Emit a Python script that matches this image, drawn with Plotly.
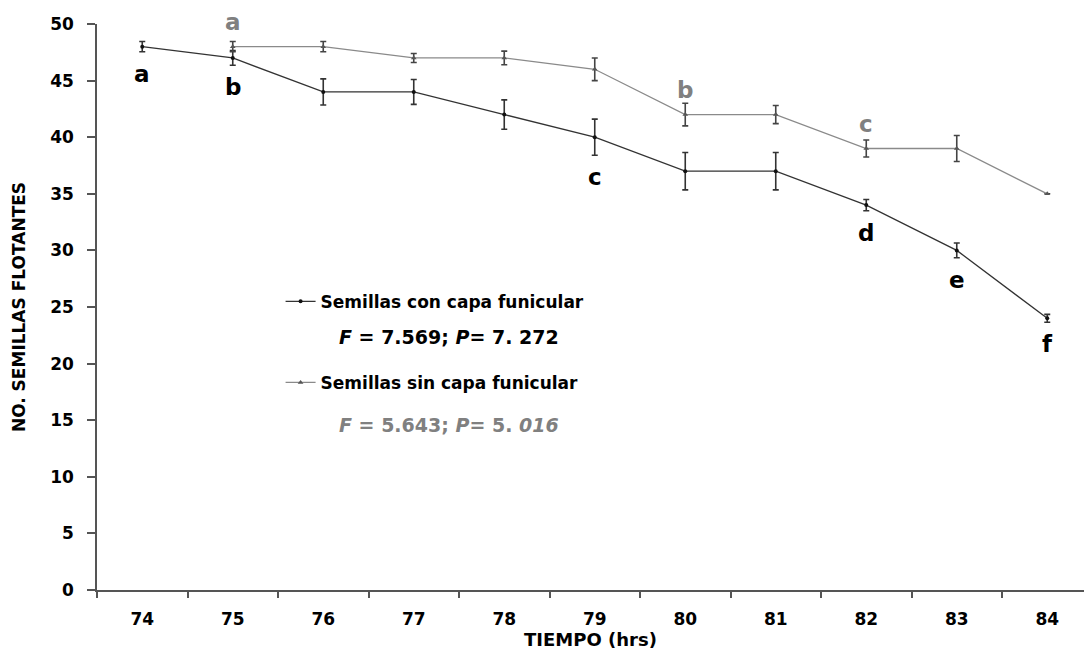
import plotly.graph_objects as go

horas = ["74", "75", "76", "77", "78", "79", "80", "81", "82", "83", "84"]

con_capa = [48, 47, 44, 44, 42, 40, 37, 37, 34, 30, 24]
con_err = [0.45, 0.65, 1.15, 1.1, 1.3, 1.6, 1.65, 1.65, 0.5, 0.65, 0.35]
con_letras = ["a", "b", "", "", "", "c", "", "", "d", "e", "f"]

sin_horas = ["75", "76", "77", "78", "79", "80", "81", "82", "83", "84"]
sin_capa = [48, 48, 47, 47, 46, 42, 42, 39, 39, 35]
sin_err = [0.45, 0.45, 0.4, 0.6, 1.0, 1.0, 0.8, 0.75, 1.15, 0]
sin_letras = ["a", "", "", "", "", "b", "", "c", "", ""]

y_ticks = [0, 5, 10, 15, 20, 25, 30, 35, 40, 45, 50]

FONT = "DejaVu Sans, Arial, sans-serif"
GRAY = "#808080"

fig = go.Figure()

fig.add_trace(go.Scatter(
    x=horas, y=con_capa, mode="lines+markers",
    name="<b>Semillas con capa funicular</b>",
    line=dict(color="#333333", width=1.3),
    marker=dict(color="#111111", size=4, symbol="circle"),
    error_y=dict(type="data", array=con_err, visible=True,
                 color="#333333", thickness=1.6, width=3),
    legendgroup="g1",
))
fig.add_trace(go.Scatter(
    x=sin_horas, y=sin_capa, mode="lines+markers",
    name="<b>Semillas sin capa funicular</b>",
    line=dict(color="#8a8a8a", width=1.3),
    marker=dict(color="#555555", size=5, symbol="triangle-up"),
    error_y=dict(type="data", array=sin_err, visible=True,
                 color="#444444", thickness=1.6, width=3),
    legendgroup="g2",
))

px_per_unit = 566 / 50.0
annotations = []
for h, v, e, l in zip(horas, con_capa, con_err, con_letras):
    if l:
        annotations.append(dict(
            x=horas.index(h), y=v, text="<b>%s</b>" % l, showarrow=False,
            yshift=-(22 + e * px_per_unit),
            font=dict(family=FONT, size=23, color="#000000")))
for h, v, e, l in zip(sin_horas, sin_capa, sin_err, sin_letras):
    if l:
        annotations.append(dict(
            x=horas.index(h), y=v, text="<b>%s</b>" % l, showarrow=False,
            yshift=25,
            font=dict(family=FONT, size=23, color=GRAY)))

annotations.append(dict(
    x=0.357, y=0.447, xref="paper", yref="paper", showarrow=False,
    text="<b><i>F</i> = 7.569; <i>P</i>= 7. 272</b>",
    font=dict(family=FONT, size=19, color="#000000")))
annotations.append(dict(
    x=0.357, y=0.268, xref="paper", yref="paper", showarrow=False,
    text="<b><i>F</i> = 5.643; <i>P</i>= 5. <i>016</i></b>",
    font=dict(family=FONT, size=19, color=GRAY)))

fig.update_layout(
    width=1084, height=652,
    margin=dict(l=97, r=0, t=24, b=62, autoexpand=False),
    paper_bgcolor="white", plot_bgcolor="white",
    font=dict(family=FONT, color="#000000"),
    annotations=annotations,
    showlegend=True,
    legend=dict(x=0.186, y=0.541, xanchor="left", yanchor="top",
                bgcolor="rgba(0,0,0,0)", traceorder="grouped",
                tracegroupgap=56,
                font=dict(family=FONT, size=17, color="#000000")),
    xaxis=dict(
        type="category", categoryorder="array", categoryarray=horas,
        range=[-0.5, 10.406],
        showline=True, linecolor="#555555", linewidth=1.5,
        ticks="outside", tickson="boundaries", ticklen=6, tickcolor="#555555",
        tickwidth=1.5, showgrid=False, zeroline=False,
        ticklabelstandoff=13,
        tickfont=dict(family=FONT, size=17, color="#000000", weight="bold"),
        title=dict(text="<b>TIEMPO (hrs)</b>", standoff=3,
                   font=dict(family=FONT, size=18, color="#000000")),
    ),
    yaxis=dict(
        range=[0, 50], tickvals=y_ticks,
        showline=True, linecolor="#555555", linewidth=1.5,
        ticks="outside", ticklen=8, tickcolor="#555555", tickwidth=1.5,
        showgrid=False, zeroline=False,
        ticklabelstandoff=10,
        tickfont=dict(family=FONT, size=17, color="#000000", weight="bold"),
        title=dict(text="<b>NO. SEMILLAS FLOTANTES</b>", standoff=20,
                   font=dict(family=FONT, size=17, color="#000000")),
    ),
)

fig.write_html("out.html")
